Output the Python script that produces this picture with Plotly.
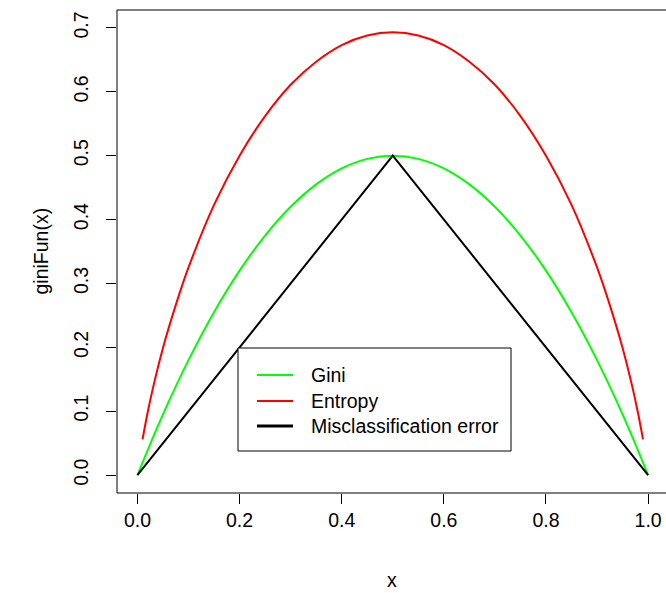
import plotly.graph_objects as go

# ---- data ----
gini_x = [0.0, 0.05, 0.1, 0.15, 0.2, 0.25, 0.3, 0.35, 0.4, 0.45, 0.5,
          0.55, 0.6, 0.65, 0.7, 0.75, 0.8, 0.85, 0.9, 0.95, 1.0]
gini_y = [0.0, 0.095, 0.18, 0.255, 0.32, 0.375, 0.42, 0.455, 0.48, 0.495, 0.5,
          0.495, 0.48, 0.455, 0.42, 0.375, 0.32, 0.255, 0.18, 0.095, 0.0]

entropy_x = [0.01, 0.02, 0.03, 0.05, 0.075, 0.1, 0.15, 0.2, 0.25, 0.3, 0.35, 0.4, 0.45, 0.5,
             0.55, 0.6, 0.65, 0.7, 0.75, 0.8, 0.85, 0.9, 0.925, 0.95, 0.97, 0.98, 0.99]
entropy_y = [0.056, 0.098, 0.135, 0.199, 0.266, 0.325, 0.423, 0.500, 0.562, 0.611, 0.647, 0.673, 0.688, 0.693,
             0.688, 0.673, 0.647, 0.611, 0.562, 0.500, 0.423, 0.325, 0.266, 0.199, 0.135, 0.098, 0.056]

misc_x = [0.0, 0.5, 1.0]
misc_y = [0.0, 0.5, 0.0]

x_ticks = [0.0, 0.2, 0.4, 0.6, 0.8, 1.0]
x_ticklabels = ["0.0", "0.2", "0.4", "0.6", "0.8", "1.0"]
y_ticks = [0.0, 0.1, 0.2, 0.3, 0.4, 0.5, 0.6, 0.7]
y_ticklabels = ["0.0", "0.1", "0.2", "0.3", "0.4", "0.5", "0.6", "0.7"]

legend_names = ["Gini", "Entropy", "Misclassification error"]
colors = ["#00FF00", "#FF0000", "#000000"]

FONT = "Liberation Sans, Arial, sans-serif"
FS = 19.5

W, H = 666, 593
L, R, T, B = 117, 0, 10, 100
PW, PH = W - L - R, H - T - B


def px(x):
    return (x - L) / PW


def py(y):
    return (H - B - y) / PH


fig = go.Figure()
fig.add_trace(go.Scatter(x=gini_x, y=gini_y, mode="lines",
                         line=dict(color=colors[0], width=2, shape="spline", smoothing=1),
                         showlegend=False))
fig.add_trace(go.Scatter(x=entropy_x, y=entropy_y, mode="lines",
                         line=dict(color=colors[1], width=2, shape="spline", smoothing=0.8),
                         showlegend=False))
fig.add_trace(go.Scatter(x=misc_x, y=misc_y, mode="lines",
                         line=dict(color=colors[2], width=2), showlegend=False))

shapes = [dict(type="rect", xref="paper", yref="paper", x0=0, x1=1.05, y0=0, y1=1,
               line=dict(color="black", width=1), fillcolor="rgba(0,0,0,0)", layer="above")]
annotations = []

# legend box
shapes.append(dict(type="rect", xref="paper", yref="paper",
                   x0=px(238), x1=px(511), y0=py(451), y1=py(348),
                   line=dict(color="black", width=1), fillcolor="white", layer="above"))
rows = [375, 401, 426]
widths = [2, 2, 3]
for name, col, yy, lw in zip(legend_names, colors, rows, widths):
    shapes.append(dict(type="line", xref="paper", yref="paper",
                       x0=px(257), x1=px(293), y0=py(yy), y1=py(yy),
                       line=dict(color=col, width=lw), layer="above"))
    annotations.append(dict(text=name, xref="paper", yref="paper", x=px(309), y=py(yy),
                            xanchor="left", yanchor="middle", showarrow=False,
                            font=dict(family=FONT, size=FS, color="black")))

# axis titles
annotations.append(dict(text="x", xref="paper", yref="paper", x=px(392), y=0,
                        yshift=-(H - (H - B)), xanchor="center", yanchor="bottom",
                        showarrow=False, font=dict(family=FONT, size=FS, color="black")))
annotations.append(dict(text="giniFun(x)", xref="paper", yref="paper", x=0, y=0.5,
                        xshift=-(L - 40), xanchor="center", yanchor="middle", textangle=-90,
                        showarrow=False, font=dict(family=FONT, size=FS, color="black")))

fig.update_layout(
    width=W, height=H,
    margin=dict(l=L, r=R, t=T, b=B, pad=0, autoexpand=False),
    paper_bgcolor="white", plot_bgcolor="white",
    font=dict(family=FONT, size=FS, color="black"),
    shapes=shapes, annotations=annotations,
    showlegend=False,
    xaxis=dict(range=[-0.04, 1.035], tickvals=x_ticks, ticktext=x_ticklabels,
               ticks="outside", ticklen=10, tickcolor="black", tickwidth=1,
               automargin=False,
               showgrid=False, zeroline=False, showline=False,
               tickfont=dict(family=FONT, size=FS, color="black")),
    yaxis=dict(range=[-0.028, 0.728], tickvals=y_ticks, ticktext=y_ticklabels,
               ticks="outside", ticklen=10, tickcolor="black", tickwidth=1,
               tickangle=-90, automargin=False, ticklabelstandoff=10,
               showgrid=False, zeroline=False, showline=False,
               tickfont=dict(family=FONT, size=FS, color="black")),
)

fig.write_html("out.html", config={"displayModeBar": False},
               post_script="document.body.style.margin='0';document.body.style.overflow='hidden';")
